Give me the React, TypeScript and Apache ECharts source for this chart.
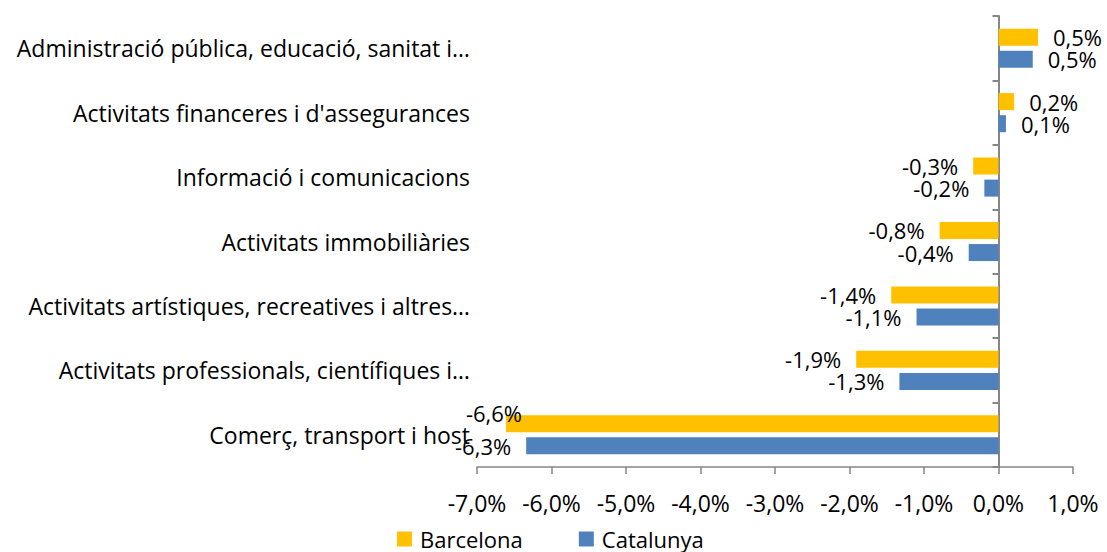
import React, { useEffect, useRef } from "react";
import * as echarts from "echarts";

const categories = [
  "Administració pública, educació, sanitat i…",
  "Activitats financeres i d'assegurances",
  "Informació i comunicacions",
  "Activitats immobiliàries",
  "Activitats artístiques, recreatives i altres…",
  "Activitats professionals, científiques i…",
  "Comerç, transport i host",
];
const barcelona = [0.53, 0.21, -0.34, -0.79, -1.44, -1.91, -6.61];
const catalunya = [0.46, 0.1, -0.19, -0.4, -1.1, -1.33, -6.34];
const seriesNames = ["Barcelona", "Catalunya"];
const xTicks = { min: -7, max: 1, interval: 1 };

const FONT = "Open Sans";
const FS = 23;
const AXIS_GREY = "#868686";

const fmt = (v: number) => v.toFixed(1).replace(".", ",") + "%";

function buildData(values: number[], special?: { index: number; offset: number[] }) {
  return values.map((v, i) => {
    const label: any = { position: v >= 0 ? "right" : "left" };
    if (special && special.index === i) label.offset = special.offset;
    return { value: v, label };
  });
}

export default function App() {
  const ref = useRef<HTMLDivElement>(null);
  useEffect(() => {
    if (!ref.current) return;
    const chart = echarts.init(ref.current, null, { renderer: "svg" });
    const labelCommon = {
      show: true,
      distance: 15,
      fontFamily: FONT,
      fontSize: 22,
      lineHeight: 20,
      color: "#000",
      formatter: (p: any) => fmt(p.value),
    };
    const catData = categories.map((c, i) =>
      i === 0 ? { value: c, textStyle: { padding: [0, 0, 10, 0] } } : c
    );
    chart.setOption({
      animation: false,
      textStyle: { fontFamily: FONT },
      grid: { left: 477, right: 34, top: 16, bottom: 85, containLabel: false },
      legend: {
        data: seriesNames,
        left: 397,
        top: 528,
        padding: 0,
        icon: "rect",
        itemWidth: 15,
        itemHeight: 15,
        itemGap: 56,
        textStyle: { fontFamily: FONT, fontSize: 22, lineHeight: 20, color: "#000", padding: [0, 0, 0, 3] },
      },
      xAxis: {
        type: "value",
        min: xTicks.min,
        max: xTicks.max,
        interval: xTicks.interval,
        splitLine: { show: false },
        axisLine: { show: true, onZero: false, lineStyle: { color: AXIS_GREY, width: 1.5 } },
        axisTick: { show: true, length: 7, lineStyle: { color: AXIS_GREY, width: 1.5 } },
        axisLabel: {
          margin: 26,
          fontFamily: FONT,
          fontSize: FS,
          lineHeight: 20,
          color: "#000",
          formatter: (v: number) => fmt(v),
        },
      },
      yAxis: [
        {
          type: "category",
          data: catData,
          inverse: true,
          position: "left",
          axisLine: { show: false, onZero: false },
          axisTick: { show: false },
          axisLabel: { margin: 7, fontFamily: FONT, fontSize: FS, color: "#000" },
        },
        {
          type: "category",
          data: categories,
          inverse: true,
          position: "left",
          axisLine: { show: true, onZero: true, lineStyle: { color: AXIS_GREY, width: 2 } },
          axisTick: { show: true, length: 6, lineStyle: { color: AXIS_GREY, width: 2 } },
          axisLabel: { show: false },
        },
      ],
      series: [
        {
          name: seriesNames[0],
          type: "bar",
          yAxisIndex: 0,
          barWidth: 17,
          barGap: "30%",
          itemStyle: { color: "#FFC000" },
          label: labelCommon,
          data: buildData(barcelona, { index: 6, offset: [31, -11] }),
          z: 3,
        },
        {
          name: seriesNames[1],
          type: "bar",
          yAxisIndex: 0,
          barWidth: 17,
          barGap: "30%",
          itemStyle: { color: "#4F81BD" },
          label: labelCommon,
          data: buildData(catalunya),
          z: 3,
        },
      ],
    });
    return () => chart.dispose();
  }, []);
  return <div ref={ref} style={{ width: 1107, height: 552, position: "absolute", left: 0, top: 0 }} />;
}
